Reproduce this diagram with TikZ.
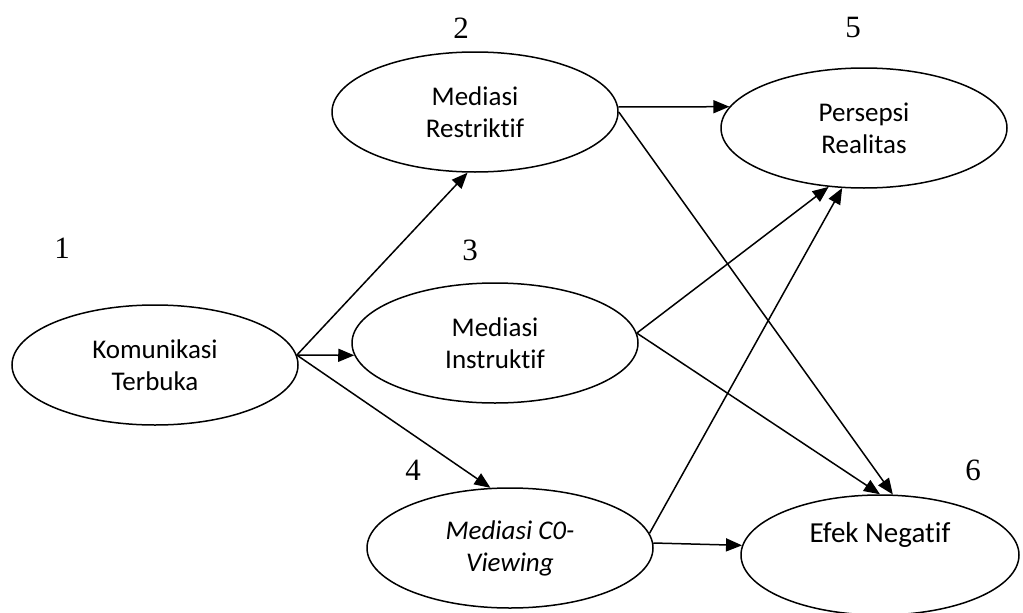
\documentclass[tikz,border=0pt]{standalone}
\usepackage{fontspec}
\setmainfont{Carlito}[Ligatures=NoCommon]
\newfontfamily\numfont{Liberation Serif}
\usetikzlibrary{shapes.geometric,arrows.meta}
\begin{document}
\begin{tikzpicture}[x=1pt,y=-1pt,
 ell/.style={draw, ellipse, line width=1.5pt, minimum width=286pt, minimum height=120pt, inner sep=0pt, align=center, font=\fontsize{27}{32}\selectfont},
 num/.style={font=\numfont\fontsize{31}{31}\selectfont, inner sep=0pt},
 arr/.style={line width=1.5pt, -{Triangle[length=16pt,width=13pt]}}]
\useasboundingbox (0,0) rectangle (1023,613);
\node[ell] (kom) at (155,365) {Komunikasi\\Terbuka};
\node[ell] (res) at (475,112) {Mediasi\\Restriktif};
\node[ell] (ins) at (495,343) {Mediasi\\Instruktif};
\node[ell] (cov) at (510,548) {\itshape Mediasi C0-\\\itshape Viewing};
\node[ell] (per) at (864,128) {Persepsi\\Realitas};
\node[ell, minimum width=278pt, font=\fontsize{29}{34}\selectfont] (efe) at (880,555) {Efek Negatif\\\strut};
\node[num] (n1) at (62,248) {1};
\node[num] (n2) at (461,28) {2};
\node[num] (n3) at (470,250) {3};
\node[num] (n4) at (413,470) {4};
\node[num] (n5) at (853,28) {5};
\node[num] (n6) at (973,470) {6};
\draw[arr] (kom.4) -- (res.-97);
\draw[arr] (kom.4) -- (ins.185);
\draw[arr] (kom.4) -- (cov.108);
\draw[arr] (res.2) -- (per.171);
\draw[arr] (res.0) -- (efe.78);
\draw[arr] (ins.4) -- (per.-121);
\draw[arr] (ins.4) -- (efe.90);
\draw[arr] (cov.6) -- (per.-110);
\draw[arr] (cov.2) -- (efe.176);
\end{tikzpicture}
\end{document}
